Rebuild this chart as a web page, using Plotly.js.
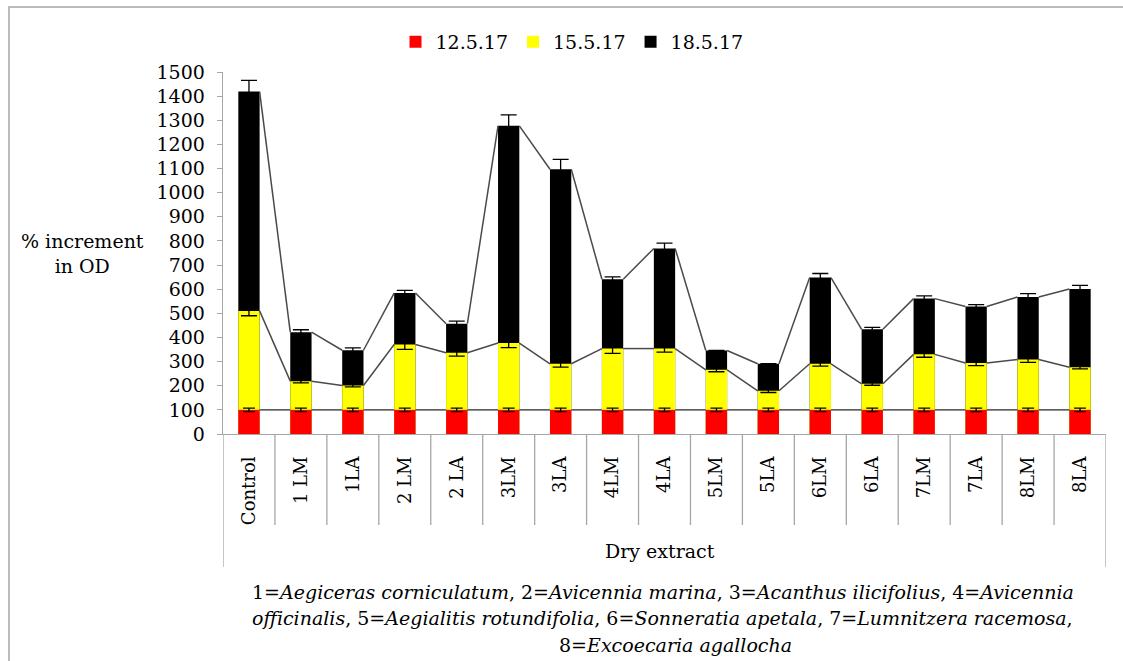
<!DOCTYPE html>
<html>
<head>
<meta charset="utf-8">
<script src="https://cdn.plot.ly/plotly-3.0.1.min.js"></script>
<style>
html,body{margin:0;padding:0;background:#fff;}
#chart{width:1123px;height:661px;}
</style>
</head>
<body>
<div id="chart"></div>
<script>
// ---- data (cumulative % increment in OD) ----
var categories = ["Control","1 LM","1LA","2 LM","2 LA","3LM","3LA","4LM","4LA","5LM","5LA","6LM","6LA","7LM","7LA","8LM","8LA"];
var seriesNames = ["12.5.17","15.5.17","18.5.17"];
var d12 = [100,100,100,100,100,100,100,100,100,100,100,100,100,100,100,100,100];
var e12 = [7,7,7,7,7,7,7,7,7,7,7,7,7,7,7,7,7];
var d15 = [510,219,201,371,337,377,291,354,354,266,179,291,208,330,294,309,277];
var e15 = [20,7,6,20,14,19,14,20,15,8,7,10,6,12,11,12,7];
var d18 = [1419,422,347,584,457,1277,1097,641,769,346,291,648,434,561,528,568,601];
var e18 = [46,10,10,11,11,45,41,10,22,0,0,17,8,11,8,14,15];
var colors = ["#FF0000","#FFFF00","#000000"];
var footnote = [
  "1=<i>Aegiceras corniculatum</i>, 2=<i>Avicennia marina</i>, 3=<i>Acanthus ilicifolius</i>, 4=<i>Avicennia</i>",
  "<i>officinalis</i>, 5=<i>Aegialitis rotundifolia</i>, 6=<i>Sonneratia apetala</i>, 7=<i>Lumnitzera racemosa</i>,",
  "8=<i>Excoecaria agallocha</i>"
];

var FONT = "DejaVu Serif, Liberation Serif, serif";
var bargap = 0.59;
var hw = (1 - bargap) / 2;
var xs = categories.map(function(_, i){ return i; });

function bar(y, err, name, color, cap){
  return {
    type: "bar", x: xs, y: y, name: name,
    marker: {color: color},
    error_y: {type: "data", array: err, visible: true, color: "#000", thickness: 1.3, width: cap},
    hoverinfo: "y"
  };
}
// series lines: connect the right edge of each bar top to the left edge of the next
function seriesLine(y){
  var lx = [], ly = [];
  for (var i = 0; i < y.length - 1; i++){
    lx.push(xs[i] + hw, xs[i+1] - hw, null);
    ly.push(y[i], y[i+1], null);
  }
  return {type: "scatter", mode: "lines", x: lx, y: ly, showlegend: false,
          hoverinfo: "skip", line: {color: "#4a4a4a", width: 1.5}, connectgaps: false};
}

var traces = [
  bar(d18, e18, seriesNames[2], colors[2], 8),
  bar(d15, e15, seriesNames[1], colors[1], 8),
  bar(d12, e12, seriesNames[0], colors[0], 6),
  seriesLine(d12), seriesLine(d15), seriesLine(d18)
];

var L = 223, R = 17, T = 72, B = 227;
var W = 1123 - L - R, H = 661 - T - B;
function px(x){ return (x - L) / W; }
function py(y){ return (661 - B - y) / H; }

var shapes = [];
for (var i = 1; i < categories.length; i++){
  shapes.push({type: "line", xref: "x", yref: "paper", x0: i - 0.5, x1: i - 0.5,
               y0: 0, y1: py(525), line: {color: "#a6a6a6", width: 1.3}});
}
[-0.5, categories.length - 0.5].forEach(function(v){
  shapes.push({type: "line", xref: "x", yref: "paper", x0: v, x1: v,
               y0: 0, y1: py(567), line: {color: "#a6a6a6", width: 1.3}});
});
// outer chart border
shapes.push({type: "rect", xref: "paper", yref: "paper", x0: px(9), x1: px(1135),
             y0: py(7), y1: py(675), line: {color: "#a6a6a6", width: 1.5}});

function note(x, y, text, size){
  return {xref: "paper", yref: "paper", x: px(x), y: py(y), xanchor: "center", yanchor: "middle",
          text: text, showarrow: false, align: "center",
          font: {family: FONT, size: size, color: "#000"}};
}
var annotations = [
  note(82, 254, "% increment<br>in OD", 19),
  note(660, 551, "Dry extract", 19),
  note(663, 592, footnote[0], 19),
  note(662, 618, footnote[1], 19),
  note(675, 645, footnote[2], 19)
];

var layout = {
  width: 1123, height: 661,
  margin: {l: L, r: R, t: T, b: B, pad: 0},
  paper_bgcolor: "#fff", plot_bgcolor: "#fff",
  barmode: "overlay", bargap: bargap,
  font: {family: FONT, color: "#000"},
  showlegend: true,
  legend: {orientation: "h", x: px(572), xanchor: "center", y: py(42), yanchor: "middle",
           traceorder: "reversed", font: {family: FONT, size: 19, color: "#000"},
           itemwidth: 30, bgcolor: "rgba(0,0,0,0)"},
  xaxis: {type: "linear", range: [-0.5, categories.length - 0.5], tickmode: "array",
          tickvals: xs, ticktext: categories, tickangle: -90, ticks: "",
          showline: true, linecolor: "#a6a6a6", linewidth: 1.3, showgrid: false, zeroline: false,
          ticklabelstandoff: 14, tickfont: {family: FONT, size: 18, color: "#000"}, fixedrange: true},
  yaxis: {range: [0, 1500], dtick: 100, tick0: 0, ticks: "outside", ticklen: 5,
          tickcolor: "#a6a6a6", showline: true, linecolor: "#a6a6a6", linewidth: 1.3,
          showgrid: false, zeroline: false, ticklabelstandoff: 8,
          tickfont: {family: FONT, size: 19, color: "#000"}, fixedrange: true},
  shapes: shapes,
  annotations: annotations
};

Plotly.newPlot("chart", traces, layout, {displayModeBar: false, staticPlot: true});
</script>
</body>
</html>
